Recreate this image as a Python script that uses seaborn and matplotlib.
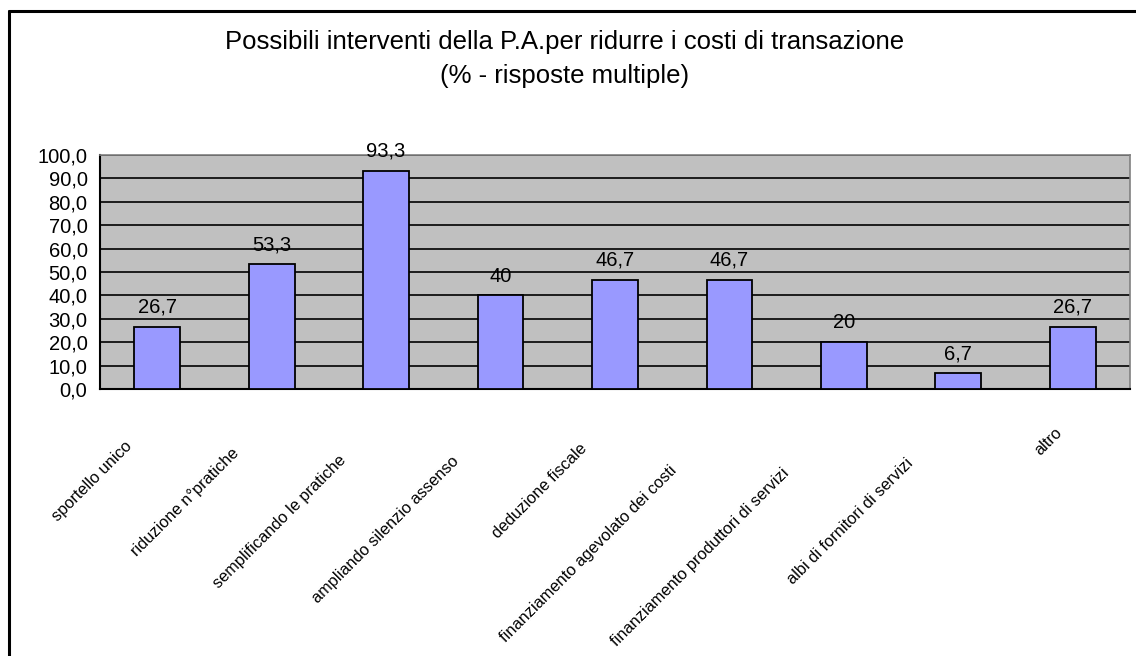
import matplotlib
matplotlib.use("Agg")
import matplotlib.pyplot as plt
import matplotlib.transforms as mtransforms
from matplotlib.lines import Line2D
import seaborn as sns
import pandas as pd

# --- data -------------------------------------------------------------
categories = [
    "sportello unico",
    "riduzione n°pratiche",
    "semplificando le pratiche",
    "ampliando silenzio assenso",
    "deduzione fiscale",
    "finanziamento agevolato dei costi",
    "finanziamento produttori di servizi",
    "albi di fornitori di servizi",
    "altro",
]
values = [26.7, 53.3, 93.3, 40, 46.7, 46.7, 20, 6.7, 26.7]
value_labels = ["26,7", "53,3", "93,3", "40", "46,7", "46,7", "20", "6,7", "26,7"]
y_ticks = [0, 10, 20, 30, 40, 50, 60, 70, 80, 90, 100]
y_tick_labels = ["0,0", "10,0", "20,0", "30,0", "40,0", "50,0",
                 "60,0", "70,0", "80,0", "90,0", "100,0"]
title_lines = ["Possibili interventi della P.A.per ridurre i costi di transazione",
               "(% - risposte multiple)"]

df = pd.DataFrame({"categoria": categories, "valore": values})

# --- figure -----------------------------------------------------------
sns.set_style("white")
plt.rcParams["font.family"] = ["Liberation Sans", "DejaVu Sans"]
plt.rcParams["text.color"] = "black"
plt.rcParams["xtick.color"] = "black"
plt.rcParams["ytick.color"] = "black"
plt.rcParams["xtick.labelcolor"] = "black"
plt.rcParams["ytick.labelcolor"] = "black"

W, H = 1136, 656
fig = plt.figure(figsize=(W / 100, H / 100), dpi=100)
ax = fig.add_axes([100 / W, 1 - 389 / H, 1030 / W, 234 / H])
ax.set_facecolor("#C0C0C0")

sns.barplot(data=df, x="categoria", y="valore", ax=ax, color="#9999FF",
            saturation=1, width=0.4, edgecolor="black", linewidth=1.3, zorder=3)

ax.set_xlim(-0.5, len(categories) - 0.5)
ax.set_ylim(0, 100)
ax.set_xlabel("")
ax.set_ylabel("")

# horizontal gridlines
ax.set_yticks(y_ticks)
ax.set_yticklabels(y_tick_labels, fontsize=14.5, color="black")
ax.yaxis.grid(True, color="black", linewidth=1.2, zorder=1)
ax.set_axisbelow(True)
ax.tick_params(axis="y", direction="out", length=6, width=1.2, color="black", pad=3)

# category ticks sit on the boundaries between bars
ax.set_xticks([i - 0.5 for i in range(len(categories) + 1)])
ax.set_xticklabels([])
ax.tick_params(axis="x", direction="out", length=6, width=1.2, color="black")

for side in ("top", "right"):
    ax.spines[side].set_color("#808080")
    ax.spines[side].set_linewidth(1.2)
for side in ("left", "bottom"):
    ax.spines[side].set_color("black")
    ax.spines[side].set_linewidth(1.5)

# value labels above the bars
for i, (v, lab) in enumerate(zip(values, value_labels)):
    ax.annotate(lab, (i, v), xytext=(0, 7), textcoords="offset points",
                ha="center", va="bottom", fontsize=14.5, color="black", zorder=4)

# rotated category labels
px_per_cat = 1030 / len(categories)
blend = mtransforms.blended_transform_factory(ax.transData, fig.transFigure)
for i, name in enumerate(categories):
    n = len(name) - 5
    x_end = i + (-18 - 1.5 * n) / px_per_cat
    y_end = 1 - (425 + 1.35 * n) / H
    ax.text(x_end, y_end, name, transform=blend, rotation=45,
            rotation_mode="anchor", ha="right", va="top", fontsize=11.8,
            color="black", clip_on=False)

# title
fig.text(0.497, 1 - 42 / H, title_lines[0], ha="center", va="center",
         fontsize=18.5, color="black")
fig.text(0.497, 1 - 76 / H, title_lines[1], ha="center", va="center",
         fontsize=18.5, color="black")

# chart frame
fig.add_artist(Line2D([8.5 / W, 8.5 / W], [1 - 11 / H, -0.05], color="black",
                      linewidth=2.2, transform=fig.transFigure))
fig.add_artist(Line2D([8.5 / W, 1.05], [1 - 11 / H, 1 - 11 / H], color="black",
                      linewidth=2.2, transform=fig.transFigure))

fig.savefig("out.png", dpi=100, facecolor="white")
